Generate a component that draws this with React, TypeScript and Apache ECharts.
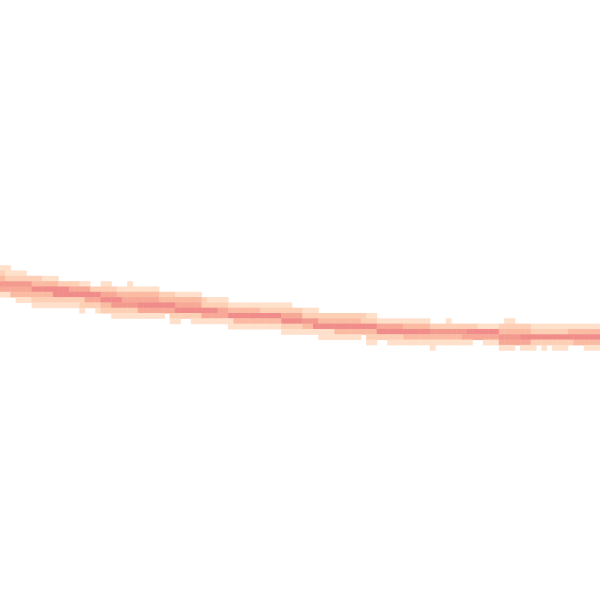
import React, { useEffect, useRef } from "react";
import * as echarts from "echarts";

// Heat levels (1 = palest peach, 6 = deepest pink) and their colours
const levels = [1, 2, 3, 4, 5, 6];
const levelColors = ["#fee0cb", "#fdcfb5", "#fabba2", "#f7a896", "#f39a8f", "#f08d8a"];

// Grid size in cells (columns x rows)
const columnCount = 113;
const rowCount = 113;

// Runs of cells: [row, firstColumn, lastColumn, level]
const runs: number[][] = [
  // x 0-100
  [50, 0, 1, 1],
  [51, 0, 0, 2], [51, 1, 4, 1],
  [52, 0, 0, 3], [52, 1, 7, 2], [52, 8, 10, 1],
  [53, 0, 5, 5], [53, 6, 10, 3], [53, 11, 14, 2], [53, 15, 16, 1],
  [54, 0, 5, 4], [54, 6, 12, 6], [54, 13, 16, 4], [54, 17, 18, 2],
  [55, 0, 1, 1], [55, 2, 9, 3], [55, 10, 18, 6],
  [56, 3, 5, 1], [56, 6, 15, 2], [56, 16, 18, 4],
  [57, 6, 14, 1], [57, 15, 18, 2],
  [58, 15, 15, 1], [58, 18, 18, 1],
  // x 100-200
  [53, 19, 20, 1], [53, 24, 24, 1],
  [54, 19, 21, 2], [54, 22, 29, 1],
  [55, 19, 21, 4], [55, 22, 29, 3], [55, 30, 32, 2], [55, 33, 37, 1],
  [56, 19, 22, 6], [56, 23, 29, 4], [56, 30, 37, 3],
  [57, 19, 20, 3], [57, 21, 25, 5], [57, 26, 32, 6], [57, 33, 37, 4],
  [58, 19, 25, 2], [58, 26, 32, 4], [58, 33, 37, 6],
  [59, 21, 30, 1], [59, 32, 37, 2],
  [60, 32, 33, 1], [60, 36, 37, 1],
  // x 200-300
  [56, 38, 38, 2], [56, 39, 42, 1],
  [57, 38, 42, 2], [57, 43, 54, 1],
  [58, 38, 40, 6], [58, 41, 42, 4], [58, 43, 48, 3], [58, 49, 56, 2],
  [59, 38, 42, 4], [59, 43, 52, 6], [59, 53, 56, 4],
  [60, 38, 43, 1], [60, 44, 52, 3], [60, 53, 56, 6],
  [61, 43, 52, 1], [61, 53, 56, 2],
  [62, 53, 56, 1],
  // x 300-400
  [58, 57, 59, 1],
  [59, 57, 68, 2], [59, 69, 70, 1],
  [60, 57, 59, 5], [60, 60, 67, 3], [60, 68, 70, 2], [60, 71, 75, 1],
  [61, 57, 58, 3], [61, 59, 70, 6], [61, 71, 75, 4],
  [62, 57, 62, 1], [62, 63, 70, 3], [62, 71, 75, 6],
  [63, 60, 67, 1], [63, 69, 75, 2],
  [64, 69, 70, 1], [64, 73, 75, 1],
  // x 400-500
  [60, 76, 80, 1], [60, 84, 84, 1],
  [61, 76, 80, 3], [61, 81, 89, 2], [61, 90, 93, 1],
  [62, 76, 80, 6], [62, 81, 87, 5], [62, 88, 93, 6],
  [63, 76, 86, 3], [63, 87, 93, 4],
  [64, 76, 86, 1], [64, 87, 88, 1], [64, 91, 93, 1],
  [65, 81, 81, 1],
  // x 500-600
  [60, 95, 96, 1],
  [61, 94, 99, 2], [61, 100, 112, 1],
  [62, 94, 99, 3], [62, 100, 106, 2], [62, 107, 112, 3],
  [63, 94, 97, 5], [63, 98, 112, 6],
  [64, 94, 99, 4], [64, 100, 107, 2], [64, 108, 112, 3],
  [65, 94, 96, 1], [65, 98, 100, 1], [65, 102, 102, 1], [65, 104, 106, 1], [65, 110, 112, 1],
];

export default function App() {
  const ref = useRef<HTMLDivElement>(null);

  useEffect(() => {
    if (!ref.current) return;
    const chart = echarts.init(ref.current, null, { renderer: "svg" });

    const cells: number[][] = [];
    runs.forEach(([row, c0, c1, level]) => {
      for (let c = c0; c <= c1; c++) cells.push([c, row, level]);
    });

    const xCats = Array.from({ length: columnCount }, (_, i) => String(i));
    const yCats = Array.from({ length: rowCount }, (_, i) => String(i));
    const cell = 600 / 112.5;

    chart.setOption({
      animation: false,
      backgroundColor: "#ffffff",
      grid: {
        left: 0,
        top: -2,
        width: cell * columnCount,
        height: cell * rowCount,
      },
      xAxis: { type: "category", data: xCats, show: false },
      yAxis: { type: "category", data: yCats, show: false, inverse: true },
      visualMap: {
        type: "piecewise",
        show: false,
        dimension: 2,
        pieces: levels.map((l, i) => ({ value: l, color: levelColors[i] })),
      },
      series: [
        {
          type: "heatmap",
          data: cells,
          itemStyle: { borderWidth: 0 },
          emphasis: { disabled: true },
        },
      ],
    });

    return () => chart.dispose();
  }, []);

  return <div ref={ref} style={{ width: 600, height: 600, position: "absolute", left: 0, top: 0 }} />;
}
